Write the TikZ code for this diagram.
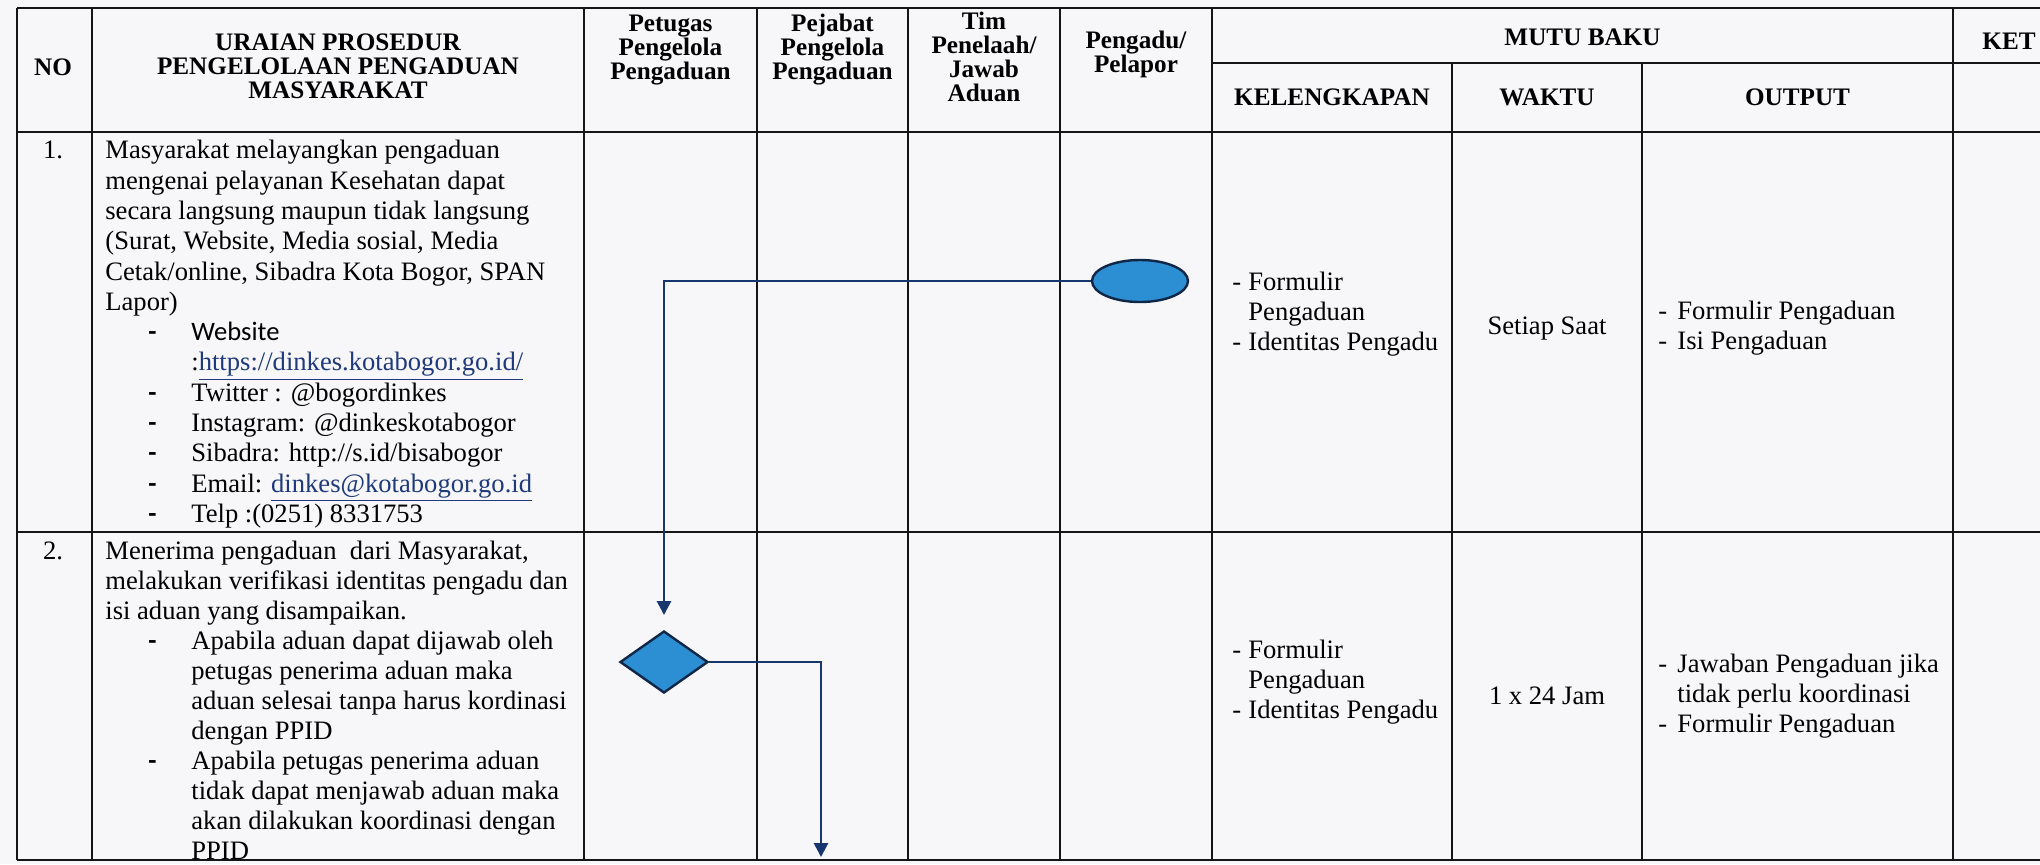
\documentclass[tikz,border=0pt]{standalone}
\usepackage{fontspec}
\setmainfont{Liberation Serif}
\newfontfamily\calfont{Carlito}
\usetikzlibrary{shapes.geometric,arrows.meta}
\definecolor{gridc}{HTML}{151515}
\definecolor{navy}{HTML}{17366E}
\definecolor{shapefill}{HTML}{2C8FD3}
\definecolor{shapeline}{HTML}{0E2747}
\definecolor{linkc}{HTML}{1F3A7A}
\definecolor{paper}{HTML}{F7F6F9}
\newcommand{\bodyfont}{\fontsize{13.3pt}{15pt}\selectfont}
\newcommand{\rowonefont}{\fontsize{13.3pt}{15.15pt}\selectfont}
\newcommand{\hdfont}{\fontsize{12.6pt}{12pt}\selectfont\bfseries}
\newcommand{\lnk}[1]{\textcolor{linkc}{\underline{#1}}}
\newcommand{\subit}[1]{\hspace*{21.5pt}\makebox[21.5pt][l]{\calfont\bfseries -}#1}
\newcommand{\subcont}[1]{\hspace*{43pt}#1}
\newcommand{\dsh}[1]{\makebox[8pt][l]{-}#1}
\newcommand{\dshb}[1]{\makebox[9.5pt][l]{-}#1}
\begin{document}
\begin{tikzpicture}[x=0.5pt,y=-0.5pt,
  every node/.style={inner sep=0pt},
  hd/.style={font=\hdfont, align=center},
  body/.style={font=\bodyfont, align=left, anchor=north west},
  cell/.style={font=\bodyfont, align=left, anchor=west},
  ctr/.style={font=\bodyfont, align=center},
  grid/.style={draw=gridc, line width=1.1pt},
  conn/.style={draw=navy, line width=1.4pt, -{Triangle[width=7pt,length=7pt]}},
  startshape/.style={ellipse, draw=shapeline, fill=shapefill, line width=1.2pt, minimum width=48pt, minimum height=21pt},
  decision/.style={diamond, draw=shapeline, fill=shapefill, line width=1.2pt, minimum width=44pt, minimum height=31pt}]
\fill[paper] (0,0) rectangle (2040,864);
\useasboundingbox (0,0) rectangle (2040,864);
% grid
\draw[grid] (17,8) -- (2045,8);
\draw[grid] (1212,63) -- (2045,63);
\draw[grid] (17,132) -- (2045,132);
\draw[grid] (17,532) -- (2045,532);
\draw[grid] (17,860) -- (2045,860);
\foreach \x in {17,92,584,757,908,1060,1212,1953} \draw[grid] (\x,8) -- (\x,860);
\foreach \x in {1452,1642} \draw[grid] (\x,63) -- (\x,860);
% header
\node[hd] (hNo) at (53,67) {NO};
\node[hd] (hUr) at (338,66) {URAIAN PROSEDUR\\PENGELOLAAN PENGADUAN\\MASYARAKAT};
\node[hd] (hPet) at (670.5,50) {Petugas\\Pengelola\\Pengaduan};
\node[hd] (hPej) at (832.5,50) {Pejabat\\Pengelola\\Pengaduan};
\node[hd] (hTim) at (984,57) {Tim\\Penelaah/\\Jawab\\Aduan};
\node[hd] (hPel) at (1136,54) {Pengadu/\\Pelapor};
\node[hd] (hMutu) at (1582.5,37) {MUTU BAKU};
\node[hd] (hKet) at (2009,41) {KET};
\node[hd] (hKel) at (1332,97) {KELENGKAPAN};
\node[hd] (hWak) at (1547,97) {WAKTU};
\node[hd] (hOut) at (1797.5,97) {OUTPUT};
% row 1
\node[ctr, anchor=base] (n1) at (53,158) {1.};
\node[body, font=\rowonefont] (t1) at (105,140) {Masyarakat melayangkan pengaduan\\
mengenai pelayanan Kesehatan dapat\\
secara langsung maupun tidak langsung\\
(Surat, Website, Media sosial, Media\\
Cetak/online, Sibadra Kota Bogor, SPAN\\
Lapor)\\
\subit{{\calfont Website}}\\
\subcont{:\lnk{https://dinkes.kotabogor.go.id/}}\\
\subit{Twitter : @bogordinkes}\\
\subit{Instagram: @dinkeskotabogor}\\
\subit{Sibadra: http://s.id/bisabogor}\\
\subit{Email: \lnk{dinkes@kotabogor.go.id}}\\
\subit{Telp :(0251) 8331753}};
\node[cell] (k1) at (1232,314) {\dsh{Formulir}\\\hspace*{8pt}Pengaduan\\\dsh{Identitas Pengadu}};
\node[ctr] (w1) at (1547,329) {Setiap Saat};
\node[cell] (o1) at (1658,328) {\dshb{Formulir Pengaduan}\\\dshb{Isi Pengaduan}};
% row 2
\node[ctr, anchor=base] (n2) at (53,559) {2.};
\node[body] (t2) at (105,541) {Menerima pengaduan\ \ dari Masyarakat,\\
melakukan verifikasi identitas pengadu dan\\
isi aduan yang disampaikan.\\
\subit{Apabila aduan dapat dijawab oleh}\\
\subcont{petugas penerima aduan maka}\\
\subcont{aduan selesai tanpa harus kordinasi}\\
\subcont{dengan PPID}\\
\subit{Apabila petugas penerima aduan}\\
\subcont{tidak dapat menjawab aduan maka}\\
\subcont{akan dilakukan koordinasi dengan}\\
\subcont{PPID}};
\node[cell] (k2) at (1232,682) {\dsh{Formulir}\\\hspace*{8pt}Pengaduan\\\dsh{Identitas Pengadu}};
\node[ctr] (w2) at (1547,696) {1 x 24 Jam};
\node[cell] (o2) at (1658,696) {\dshb{Jawaban Pengaduan jika}\\\hspace*{9.5pt}tidak perlu koordinasi\\\dshb{Formulir Pengaduan}};
% flow
\node[startshape] (start) at (1140,281) {};
\node[decision] (dec) at (664,662) {};
\coordinate (a1) at (664,615);
\coordinate (a2) at (821,857);
\draw[conn] (start.west) -| (a1);
\draw[conn] (dec.east) -| (a2);
\end{tikzpicture}
\end{document}
